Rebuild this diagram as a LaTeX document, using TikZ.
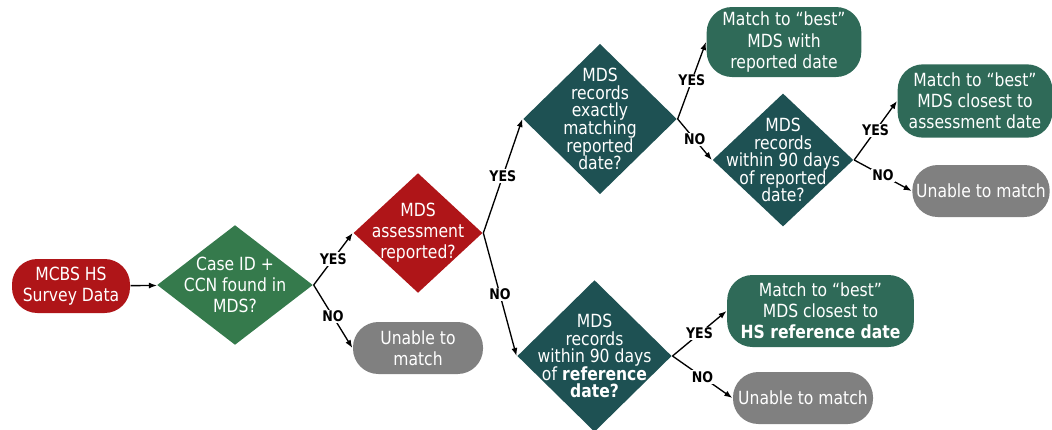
\documentclass[tikz,border=0pt]{standalone}
\usepackage{fontspec}
\setmainfont{DejaVu Sans}[FakeStretch=0.86]
\usetikzlibrary{shapes.geometric,arrows.meta}

\definecolor{mcred}{HTML}{AF1518}
\definecolor{mcgreen}{HTML}{357A4C}
\definecolor{mcteal}{HTML}{1E5153}
\definecolor{mcbox}{HTML}{2F6A58}
\definecolor{mcgray}{HTML}{808080}

\begin{document}
\begin{tikzpicture}[
		x=0.75pt, y=-0.75pt,
		font=\fontsize{13.6}{15.8}\selectfont,
		line width=1pt,
		>={Latex[length=6pt,width=4.5pt]},
		dia/.style = {diamond, inner sep=0pt},
		lbl/.style = {text=white, align=center},
		tight/.style = {font=\fontsize{13.6}{13.2}\selectfont},
		box/.style = {rectangle, rounded corners=19pt, inner sep=0pt, text=white, align=center},
		ans/.style = {fill=white, inner sep=1pt, font=\fontsize{11}{12}\selectfont\bfseries}
	]
	\useasboundingbox (0,0) rectangle (1052,429);

	% first level
	\node[box, fill=mcred, minimum width=88.5pt, minimum height=40.5pt] (start) at (71,286) {MCBS HS\\Survey Data};
	\node[dia, fill=mcgreen, minimum width=117pt, minimum height=90pt,
		label={[lbl]center:{Case ID +\\CCN found in\\MDS?}}] (d1) at (235,285) {};
	\node[box, fill=mcgray, minimum width=97.5pt, minimum height=39pt] (u1) at (418,348) {Unable to\\match};

	% assessment reported?
	\node[dia, fill=mcred, minimum width=97pt, minimum height=90pt,
		label={[lbl]center:{MDS\\assessment\\reported?}}] (d2) at (418,233) {};

	% reported date branch
	\node[dia, fill=mcteal, minimum width=115.5pt, minimum height=113pt,
		label={[lbl,tight]center:{MDS\\records\\exactly\\matching\\reported\\date?}}] (d3) at (600,119) {};
	\node[box, fill=mcbox, minimum width=116pt, minimum height=52.5pt] (b1) at (784,42) {Match to ``best''\\MDS with\\reported date};
	\node[dia, fill=mcteal, minimum width=105.75pt, minimum height=100pt,
		label={[lbl,tight]center:{MDS\\records\\within 90 days\\of reported\\date?}}] (d4) at (783,160) {};
	\node[box, fill=mcbox, minimum width=116pt, minimum height=55pt] (b2) at (975,101) {Match to ``best''\\MDS closest to\\assessment date};
	\node[box, fill=mcgray, minimum width=103pt, minimum height=39pt] (u2) at (981,191) {Unable to match};

	% reference date branch
	\node[dia, fill=mcteal, minimum width=116pt, minimum height=114pt,
		label={[lbl,tight]center:{MDS\\records\\within 90 days\\of \textbf{reference}\\\textbf{date?}}}] (d5) at (594.5,356) {};
	\node[box, fill=mcbox, minimum width=140pt, minimum height=54pt] (b3) at (820.5,311) {Match to ``best''\\MDS closest to\\\textbf{HS reference date}};
	\node[box, fill=mcgray, minimum width=105pt, minimum height=39pt] (u3) at (803,398) {Unable to match};

	\draw[->] (start) -- (d1);
	\draw[->] (d1.east) -- node[ans] {YES} (d2.west);
	\draw[->] (d1.east) -- node[ans] {NO} (u1.west);
	\draw[->] (d2.east) -- node[ans] {YES} (d3.west);
	\draw[->] (d2.east) -- node[ans] {NO} (d5.west);
	\draw[->] (d3.east) -- node[ans] {YES} (b1.west);
	\draw[->] (d3.east) -- node[ans] {NO} (d4.west);
	\draw[->] (d4.east) -- node[ans] {YES} (b2.west);
	\draw[->] (d4.east) -- node[ans] {NO} (u2.west);
	\draw[->] (d5.east) -- node[ans] {YES} (b3.west);
	\draw[->] (d5.east) -- node[ans] {NO} (u3.west);
\end{tikzpicture}
\end{document}
